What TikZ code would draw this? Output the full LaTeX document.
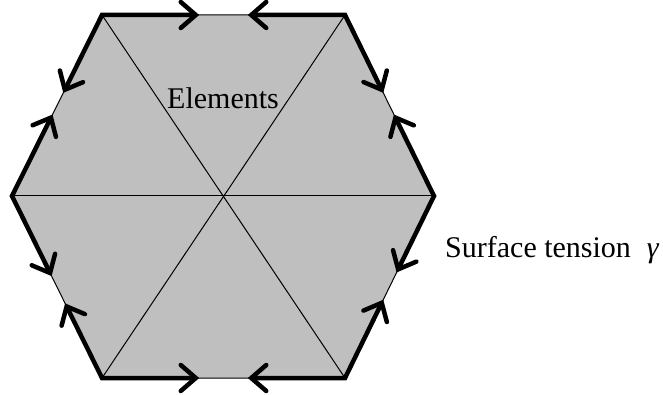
\documentclass[tikz,border=0pt]{standalone}
\usepackage{fontspec}
\setmainfont{Liberation Serif}
\usetikzlibrary{arrows.meta,calc}
\begin{document}
\begin{tikzpicture}[x=1pt,y=-1pt,
  thinline/.style={line width=1pt,black},
  edgeline/.style={line width=4.5pt,line join=miter,
    {Straight Barb[length=15pt,width=26pt,line cap=round]}-{Straight Barb[length=15pt,width=26pt,line cap=round]}},
  lbl/.style={font=\fontsize{30}{36}\selectfont,inner sep=0pt}]
\useasboundingbox (0,0) rectangle (663,395);
\coordinate (TL) at (102,15);
\coordinate (TR) at (345,15);
\coordinate (R) at (434,196);
\coordinate (BR) at (345,378);
\coordinate (BL) at (102,378);
\coordinate (L) at (12,196);
\fill[black!25] (TL) -- (TR) -- (R) -- (BR) -- (BL) -- (L) -- cycle;
\draw[thinline] (TL) -- (TR) -- (R) -- (BR) -- (BL) -- (L) -- cycle;
\draw[thinline] (TL) -- (BR);
\draw[thinline] (TR) -- (BL);
\draw[thinline] (L) -- (R);
% thick segments with arrows pointing to edge midpoints
\draw[edgeline] ($(TL)!0.43!(L)$) -- (TL) -- ($(TL)!0.40!(TR)$);
\draw[edgeline] ($(TR)!0.40!(TL)$) -- (TR) -- ($(TR)!0.43!(R)$);
\draw[edgeline] ($(R)!0.45!(TR)$) -- (R) -- ($(R)!0.42!(BR)$);
\draw[edgeline] ($(BR)!0.43!(R)$) -- (BR) -- ($(BR)!0.40!(BL)$);
\draw[edgeline] ($(BL)!0.40!(BR)$) -- (BL) -- ($(BL)!0.41!(L)$);
\draw[edgeline] ($(L)!0.44!(BL)$) -- (L) -- ($(L)!0.45!(TL)$);
\node[lbl] (elements) at (223,98) {Elements};
\node[lbl,anchor=west] (tension) at (445,250) {Surface tension\hspace{16pt}{\itshape γ}};
\end{tikzpicture}
\end{document}
